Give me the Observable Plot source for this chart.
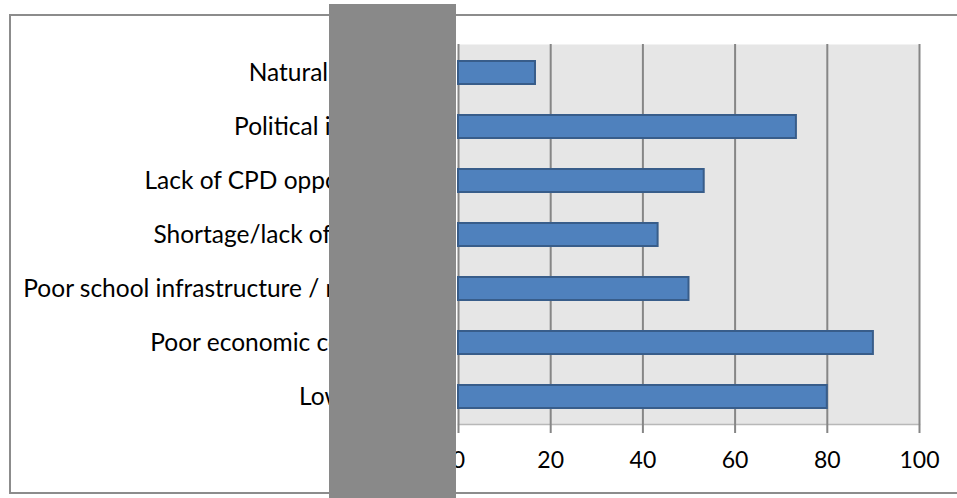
<!DOCTYPE html>
<html>
<head>
<meta charset="utf-8">
<script src="https://cdn.jsdelivr.net/npm/d3@7"></script>
<script src="https://cdn.jsdelivr.net/npm/@observablehq/plot@0.6"></script>
<style>
  html, body { margin: 0; padding: 0; background: #fff; }
  #wrap { position: relative; width: 957px; height: 498px; overflow: hidden; font-family: Lato, "Open Sans", sans-serif; }
  #border { position: absolute; left: 9px; top: 14px; width: 1000px; height: 476px; border: 2px solid #8c8c8c; box-sizing: content-box; }
  #chart { position: absolute; left: 0; top: 0; }
  #mask { position: absolute; left: 329px; top: 4px; width: 127px; height: 494px; background: #898989; }
</style>
</head>
<body>
<div id="wrap">
  <div id="border"></div>
  <div id="chart"></div>
  <div id="mask"></div>
</div>
<script>
const categories = [
  "Natural disasters",
  "Political instability",
  "Lack of CPD opportunities",
  "Shortage/lack of teachers",
  "Poor school infrastructure / resources",
  "Poor economic conditions",
  "Low salaries"
];
const values = [16.7, 73.3, 53.3, 43.3, 50, 90, 80];
const xTicks = [0, 20, 40, 60, 80, 100];

const data = categories.map((c, i) => ({category: c, value: values[i]}));

const plot = Plot.plot({
  width: 957,
  height: 498,
  marginLeft: 458,
  marginRight: 38,
  marginTop: 44,
  marginBottom: 74,
  style: {fontFamily: "Lato, 'Open Sans', sans-serif", fontSize: "24.5px", color: "#000", background: "transparent"},
  x: {domain: [0, 100], ticks: xTicks, label: null},
  y: {domain: categories, paddingInner: 0.58, paddingOuter: 0.29, label: null},
  marks: [
    Plot.frame({fill: "#e6e6e6", stroke: null}),
    Plot.frame({anchor: "bottom", stroke: "#b8b8b8", strokeWidth: 1.5}),
    Plot.gridX(xTicks, {stroke: "#868686", strokeOpacity: 1, strokeWidth: 2}),
    Plot.axisX({ticks: xTicks, tickSize: 9, tickPadding: 18, stroke: "#868686", strokeWidth: 2, fontSize: 23, fill: "#000", label: null}),
    Plot.axisY({tickSize: 0, tickPadding: 30, fontSize: 24.5, fill: "#000", label: null}),
    Plot.barX(data, {y: "category", x: "value", fill: "#4f81bd", stroke: "#385d8a", strokeWidth: 2})
  ]
});
document.getElementById("chart").appendChild(plot);
</script>
</body>
</html>
